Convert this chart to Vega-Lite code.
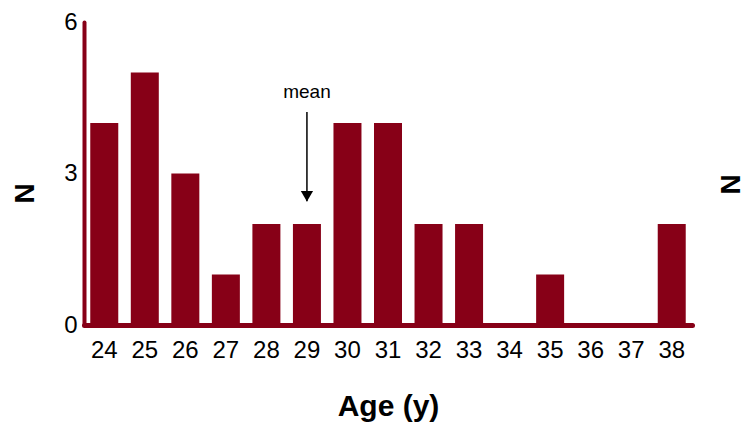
{
  "$schema": "https://vega.github.io/schema/vega-lite/v6.json",
  "autosize": {"type": "none"},
  "width": 608,
  "height": 303,
  "padding": {"left": 84, "top": 22, "right": 55, "bottom": 103},
  "background": "white",
  "config": {
    "view": {"stroke": null},
    "font": "Liberation Sans",
    "axis": {"grid": false, "ticks": false, "labelFont": "Liberation Sans", "titleFont": "Liberation Sans", "labelColor": "#000000", "titleColor": "#000000"}
  },
  "datasets": {
    "ages": [
      {"age": "24", "n": 4}, {"age": "25", "n": 5}, {"age": "26", "n": 3},
      {"age": "27", "n": 1}, {"age": "28", "n": 2}, {"age": "29", "n": 2},
      {"age": "30", "n": 4}, {"age": "31", "n": 4}, {"age": "32", "n": 2},
      {"age": "33", "n": 2}, {"age": "34", "n": 0}, {"age": "35", "n": 1},
      {"age": "36", "n": 0}, {"age": "37", "n": 0}, {"age": "38", "n": 2}
    ],
    "mean": [
      {"age": "29", "label": "mean", "textY": 4.5, "lineTop": 4.22, "lineBottom": 2.45, "headY": 2.55}
    ]
  },
  "layer": [
    {
      "layer": [
        {
          "data": {"name": "ages"},
          "mark": {"type": "bar", "color": "#870017", "width": 28},
          "encoding": {
            "x": {
              "field": "age", "type": "ordinal", "sort": null,
              "scale": {"paddingInner": 0.31, "paddingOuter": 0.155},
              "axis": {
                "title": "Age (y)", "labelAngle": 0, "labelFontSize": 24, "labelPadding": 13,
                "domainColor": "#870017", "domainWidth": 5, "domainCap": "round",
                "titleFontSize": 30, "titleFontWeight": "bold", "titleBaseline": "alphabetic",
                "titleY": 90, "titlePadding": 0
              }
            },
            "y": {
              "field": "n", "type": "quantitative",
              "scale": {"domain": [0, 6], "nice": false},
              "axis": {
                "values": [0, 3, 6], "labelFontSize": 24, "labelPadding": 7,
                "domainColor": "#870017", "domainWidth": 4, "domainCap": "round",
                "title": "N", "titleFontSize": 28, "titleFontWeight": "bold",
                "titleAngle": 270, "titleX": -59, "titleY": 171, "titleAlign": "center", "titleBaseline": "middle"
              }
            }
          }
        },
        {
          "data": {"name": "mean"},
          "mark": {"type": "rule", "color": "#000000", "strokeWidth": 1.5},
          "encoding": {
            "x": {"field": "age", "type": "ordinal", "sort": null},
            "y": {"field": "lineTop", "type": "quantitative"},
            "y2": {"field": "lineBottom"}
          }
        },
        {
          "data": {"name": "mean"},
          "mark": {"type": "point", "shape": "triangle-down", "filled": true, "color": "#000000", "size": 150, "opacity": 1},
          "encoding": {
            "x": {"field": "age", "type": "ordinal", "sort": null},
            "y": {"field": "headY", "type": "quantitative"}
          }
        },
        {
          "data": {"name": "mean"},
          "mark": {"type": "text", "fontSize": 19, "color": "#000000", "baseline": "alphabetic", "align": "center"},
          "encoding": {
            "x": {"field": "age", "type": "ordinal", "sort": null},
            "y": {"field": "textY", "type": "quantitative"},
            "text": {"field": "label"}
          }
        }
      ]
    },
    {
      "data": {"name": "ages"},
      "mark": {"type": "bar", "opacity": 0, "width": 28},
      "encoding": {
        "x": {"field": "age", "type": "ordinal", "sort": null},
        "y": {"field": "n", "type": "quantitative",
          "axis": {"orient": "right", "labels": false, "domain": false, "ticks": false,
            "title": "N", "titleFontSize": 28, "titleFontWeight": "bold",
            "titleAngle": 270, "titleX": 39, "titleY": 162, "titleAlign": "center", "titleBaseline": "middle"}}
      }
    }
  ],
  "resolve": {"axis": {"y": "independent"}}
}
